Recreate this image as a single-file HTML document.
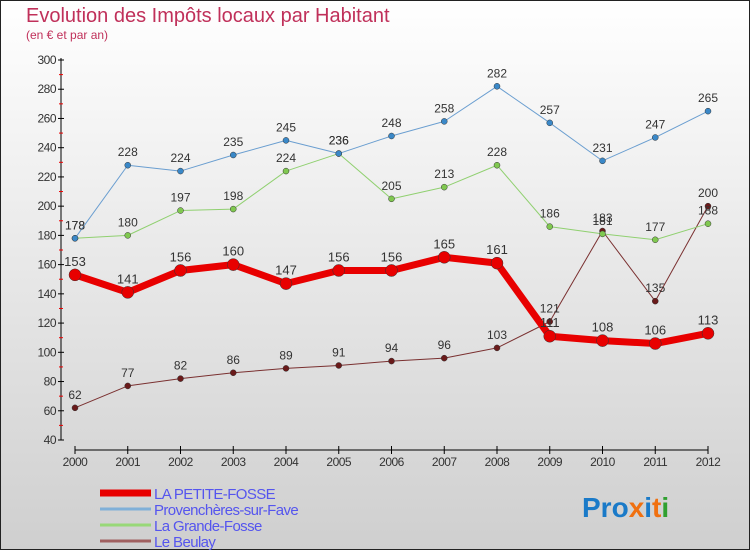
<!DOCTYPE html>
<html><head><meta charset="utf-8"><style>
body{margin:0;width:750px;height:550px;overflow:hidden;font-family:"Liberation Sans",sans-serif}
svg{display:block}
</style></head><body>
<svg width="750" height="550">
<defs><linearGradient id="bg" x1="0" y1="0" x2="0" y2="1"><stop offset="0" stop-color="#ffffff"/><stop offset="1" stop-color="#cfcfcf"/></linearGradient></defs>
<rect x="0.5" y="0.5" width="749" height="549" fill="url(#bg)" stroke="#222"/>
<text x="26" y="22" font-size="20" fill="#c0305a">Evolution des Impôts locaux par Habitant</text>
<text x="26" y="39" font-size="12" fill="#c0305a">(en € et par an)</text>
<g id="axes"></g>
<g id="series"></g>
<g id="legend" font-size="15" fill="#5555ee"></g>
<text x="582" y="517" font-size="28" font-weight="bold"><tspan fill="#1a7ac8">Pro</tspan><tspan fill="#f07010">x</tspan><tspan fill="#1a7ac8">i</tspan><tspan fill="#f07010">t</tspan><tspan fill="#30a030">i</tspan></text>
</svg>
<script>
const years=[2000,2001,2002,2003,2004,2005,2006,2007,2008,2009,2010,2011,2012];
const petite=[153,141,156,160,147,156,156,165,161,111,108,106,113];
const provench=[178,228,224,235,245,236,248,258,282,257,231,247,265];
const grande=[178,180,197,198,224,236,205,213,228,186,181,177,188];
const beulay=[62,77,82,86,89,91,94,96,103,121,183,135,200];
const yTicks=[40,60,80,100,120,140,160,180,200,220,240,260,280,300];
const NS="http://www.w3.org/2000/svg";
const x=i=>75+i*(633/12);
const y=v=>440-(v-40)*(380/260);
function mk(t,a,p){const e=document.createElementNS(NS,t);for(const k in a)e.setAttribute(k,a[k]);p.appendChild(e);return e;}
const ax=document.getElementById('axes');
let e=mk('line',{x1:61,y1:58,x2:61,y2:440,stroke:'#000'},ax);


e=mk('line',{x1:75,y1:450,x2:708,y2:450,stroke:'#000'},ax);


yTicks.forEach((v,i)=>{
  mk('line',{x1:58,y1:y(v),x2:64,y2:y(v),stroke:'#000'},ax);
  if(i<yTicks.length-1) mk('line',{x1:59,y1:y(v+10),x2:63,y2:y(v+10),stroke:'#e00'},ax);
  const t=mk('text',{x:56,y:y(v)+4,'font-size':12,'text-anchor':'end',fill:'#333','letter-spacing':'-0.5'},ax);t.textContent=v;
  
  
});
years.forEach((yr,i)=>{
  mk('line',{x1:x(i),y1:446,x2:x(i),y2:454,stroke:'#000'},ax);
  const t=mk('text',{x:x(i),y:466,'font-size':12,'text-anchor':'middle',fill:'#333','letter-spacing':'-0.5'},ax);t.textContent=yr;
  
  
});
const sg=document.getElementById('series');
function series(data,color,w,r,dot,name,fs){
  const g=mk('g',{},sg);
  
  
  mk('polyline',{points:data.map((v,i)=>x(i)+','+y(v)).join(' '),fill:'none',stroke:color,'stroke-width':w,'stroke-linejoin':'round'},g);
  data.forEach((v,i)=>{
    const c=mk('circle',{cx:x(i),cy:y(v),r:r,fill:dot,stroke:'#333','stroke-width':0.5},g);
    
    
    const t=mk('text',{x:x(i),y:y(v)-9,'font-size':fs,'text-anchor':'middle',fill:'#333'},g);t.textContent=v;
    
    
  });
}
series(beulay,'#7a3030',1,3,'#6a1a1a','le-beulay-series',12);
series(grande,'#90d070',1,3,'#80c850','la-grande-fosse-series',12);
series(provench,'#6a9ed0',1,3,'#3a88c8','provencheres-series',12);
series(petite,'#e80000',7,6,'#e80000','la-petite-fosse-series',13);
const lg=document.getElementById('legend');
[['LA PETITE-FOSSE','#e80000',7],['Provenchères-sur-Fave','#80b0d8',3],['La Grande-Fosse','#98d878',3],['Le Beulay','#a06060',3]].forEach((d,i)=>{
  const yy=493+i*16;
  const l=mk('line',{x1:100,y1:yy,x2:151,y2:yy,stroke:d[1],'stroke-width':d[2]},lg);
  
  
  const t=mk('text',{x:154,y:yy+6,fill:'#5555ee','letter-spacing':'-0.6'},lg);t.textContent=d[0];
  
  
});
</script>
</body></html>
